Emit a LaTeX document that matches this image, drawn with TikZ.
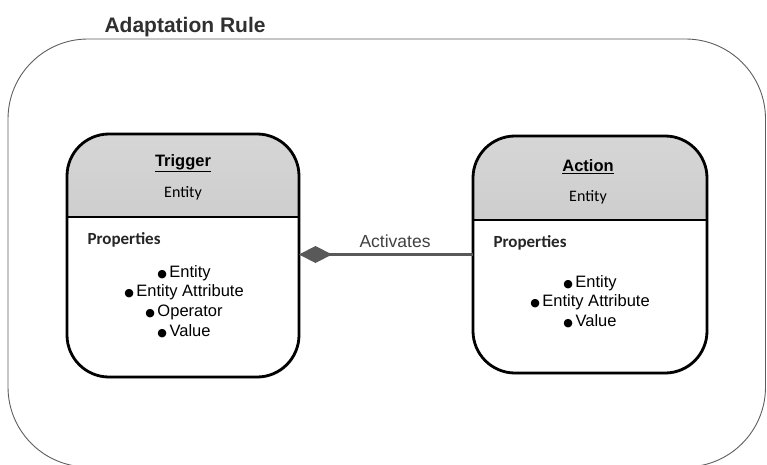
\documentclass[tikz,border=0pt]{standalone}
\usepackage{fontspec}
\setmainfont{Liberation Sans}
\newfontfamily\calib{Carlito}
\newfontfamily\dejavu{DejaVu Sans}
\usetikzlibrary{arrows.meta,shadows}

\definecolor{hdrtop}{HTML}{D6D6D6}
\definecolor{hdrbot}{HTML}{BEBEBE}
\definecolor{frame}{HTML}{5E5E5E}
\definecolor{link}{HTML}{595959}
\definecolor{titletext}{HTML}{303030}

% filled round bullet followed by a small gap
\newcommand{\bul}{{\dejavu\fontsize{11}{11}\selectfont ●}\hspace{2.5pt}}

\tikzset{
  outerframe/.style={draw=frame, line width=0.9pt, rounded corners=80pt,
    inner sep=0pt, outer sep=0pt},
  card/.style={draw=black, line width=2.8pt, fill=white, rounded corners=42pt,
    inner sep=0pt, outer sep=0pt,
    drop shadow={shadow xshift=1pt, shadow yshift=-1.5pt, opacity=0.3},
    path picture={
      \shade[sharp corners, top color=hdrtop, bottom color=hdrbot]
        (path picture bounding box.north west) rectangle
        ([yshift=-#1]path picture bounding box.north east);
      \draw[sharp corners, line width=2.8pt]
        ([yshift=-#1]path picture bounding box.north west) --
        ([yshift=-#1]path picture bounding box.north east);
    }},
  cardtitle/.style={font=\bfseries\fontsize{16.5}{18}\selectfont},
  cardsub/.style={font=\calib\fontsize{16}{18}\selectfont},
  proplabel/.style={anchor=west, font=\calib\bfseries\fontsize{17}{18}\selectfont, text=black!85},
  proplist/.style={align=center, font=\fontsize{16.5}{19.7}\selectfont},
  linklabel/.style={font=\fontsize{17.5}{18}\selectfont, text=black!75},
  link/.style={draw=link, line width=3pt,
    -{Diamond[length=33pt,width=17pt,fill=link]}},
}

\begin{document}
\begin{tikzpicture}[x=1pt,y=1pt]
  \useasboundingbox (0,0) rectangle (767,464);

  % enclosing rule frame (its lower edge runs just past the page) and its caption
  \node[outerframe, minimum width=757.5pt, minimum height=428pt] (rule) at (386.75,211) {};
  \node[anchor=west, font=\bfseries\fontsize{21}{24}\selectfont, text=titletext] (ruletitle) at (101,437) {Adaptation Rule};

  % trigger card
  \node[card=83pt, minimum width=232pt, minimum height=243pt] (trig) at (183,208.5) {};
  \node[cardtitle] (trigtitle) at (183,301) {\underline{Trigger}};
  \node[cardsub] (trigent) at (183,271) {Entity};
  \node[proplabel] (trigprop) at (84,224) {Properties};
  \node[proplist] (triglist) at (184,162.5) {\bul Entity\\ \bul Entity Attribute\\ \bul Operator\\ \bul Value};

  % action card
  \node[card=84pt, minimum width=234pt, minimum height=237pt] (act) at (590,209.5) {};
  \node[cardtitle] (acttitle) at (588,297) {\underline{Action}};
  \node[cardsub] (actent) at (588,267) {Entity};
  \node[proplabel] (actprop) at (490,221) {Properties};
  \node[proplist] (actlist) at (590,162.5) {\bul Entity\\ \bul Entity Attribute\\ \bul Value};

  % activation link with diamond at the trigger side
  \draw[link] (act.west) -- (act.west -| trig.east);
  \node[linklabel] (linktext) at (395,223) {Activates};
\end{tikzpicture}
\end{document}
